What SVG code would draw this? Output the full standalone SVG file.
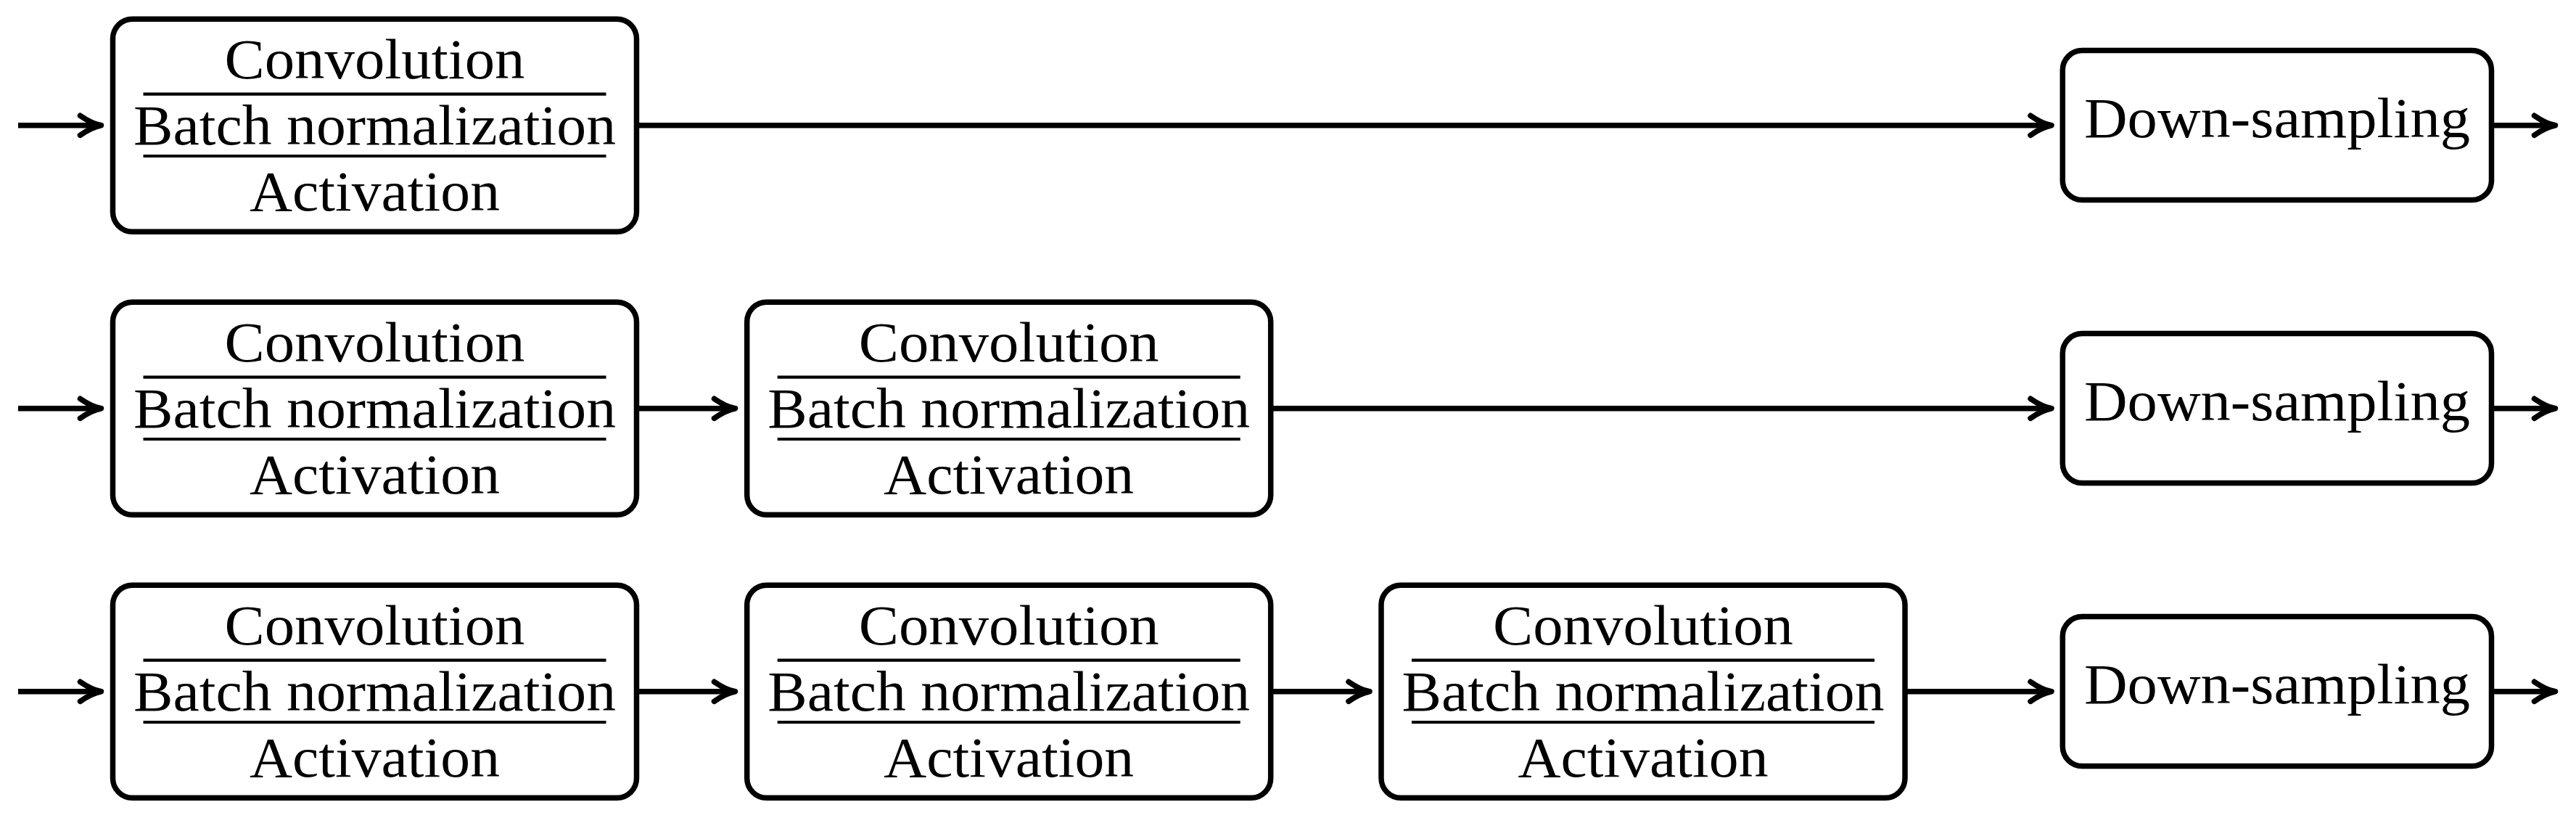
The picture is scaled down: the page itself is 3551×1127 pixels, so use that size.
<svg xmlns="http://www.w3.org/2000/svg" width="3551" height="1127" viewBox="0 0 3551 1127">
<style>
.box{fill:#fff;stroke:#000;stroke-width:7.5}
.sep{stroke:#000;stroke-width:4.2}
.lbl{font-family:"Liberation Serif","Times New Roman",serif;font-size:79px;fill:#000;text-anchor:middle}
.con{fill:none;stroke:#000;stroke-width:7.5}
</style>
<defs>
<marker id="arr" markerUnits="userSpaceOnUse" markerWidth="60" markerHeight="40" viewBox="-40 -20 60 40" refX="0" refY="0" orient="auto" overflow="visible">
<path d="M -24,-13.5 Q -8,-2.5 5,0 Q -8,2.5 -24,13.5" fill="none" stroke="#000" stroke-width="7.5" stroke-linecap="round" stroke-linejoin="round"/>
</marker>
</defs>
<rect width="3551" height="1127" fill="#fff"/>

<g id="connectors">
<line class="con" x1="25" y1="172.8" x2="134.5" y2="172.8" marker-end="url(#arr)"/>
<line class="con" x1="877.5" y1="172.8" x2="2823" y2="172.8" marker-end="url(#arr)"/>
<line class="con" x1="3434.5" y1="172.8" x2="3517.5" y2="172.8" marker-end="url(#arr)"/>

<line class="con" x1="25" y1="562.8" x2="134.5" y2="562.8" marker-end="url(#arr)"/>
<line class="con" x1="877.5" y1="562.8" x2="1008.5" y2="562.8" marker-end="url(#arr)"/>
<line class="con" x1="1751.7" y1="562.8" x2="2823" y2="562.8" marker-end="url(#arr)"/>
<line class="con" x1="3434.5" y1="562.8" x2="3517.5" y2="562.8" marker-end="url(#arr)"/>

<line class="con" x1="25" y1="952.8" x2="134.5" y2="952.8" marker-end="url(#arr)"/>
<line class="con" x1="877.5" y1="952.8" x2="1008.5" y2="952.8" marker-end="url(#arr)"/>
<line class="con" x1="1751.7" y1="952.8" x2="1883" y2="952.8" marker-end="url(#arr)"/>
<line class="con" x1="2626" y1="952.8" x2="2823" y2="952.8" marker-end="url(#arr)"/>
<line class="con" x1="3434.5" y1="952.8" x2="3517.5" y2="952.8" marker-end="url(#arr)"/>
</g>

<g id="r1-conv1">
<rect class="box" x="155.5" y="26.3" width="722" height="293" rx="27"/>
<line class="sep" x1="197.5" y1="129.7" x2="835.5" y2="129.7"/>
<line class="sep" x1="197.5" y1="215" x2="835.5" y2="215"/>
<text class="lbl" x="516.5" y="108.3" textLength="414" lengthAdjust="spacingAndGlyphs">Convolution</text>
<text class="lbl" x="516.5" y="199.3" textLength="665" lengthAdjust="spacingAndGlyphs">Batch normalization</text>
<text class="lbl" x="516.5" y="290" textLength="345" lengthAdjust="spacingAndGlyphs">Activation</text>
</g>
<g id="r1-down">
<rect class="box" x="2843.3" y="69.6" width="591.2" height="206" rx="27"/>
<text class="lbl" x="3139" y="189.3" textLength="532" lengthAdjust="spacingAndGlyphs">Down-sampling</text>
</g>

<g id="r2-conv1">
<rect class="box" x="155.5" y="416.3" width="722" height="293" rx="27"/>
<line class="sep" x1="197.5" y1="519.7" x2="835.5" y2="519.7"/>
<line class="sep" x1="197.5" y1="605" x2="835.5" y2="605"/>
<text class="lbl" x="516.5" y="498.3" textLength="414" lengthAdjust="spacingAndGlyphs">Convolution</text>
<text class="lbl" x="516.5" y="589.3" textLength="665" lengthAdjust="spacingAndGlyphs">Batch normalization</text>
<text class="lbl" x="516.5" y="680" textLength="345" lengthAdjust="spacingAndGlyphs">Activation</text>
</g>
<g id="r2-conv2">
<rect class="box" x="1029.7" y="416.3" width="722" height="293" rx="27"/>
<line class="sep" x1="1071.7" y1="519.7" x2="1709.7" y2="519.7"/>
<line class="sep" x1="1071.7" y1="605" x2="1709.7" y2="605"/>
<text class="lbl" x="1390.7" y="498.3" textLength="414" lengthAdjust="spacingAndGlyphs">Convolution</text>
<text class="lbl" x="1390.7" y="589.3" textLength="665" lengthAdjust="spacingAndGlyphs">Batch normalization</text>
<text class="lbl" x="1390.7" y="680" textLength="345" lengthAdjust="spacingAndGlyphs">Activation</text>
</g>
<g id="r2-down">
<rect class="box" x="2843.3" y="459.6" width="591.2" height="206" rx="27"/>
<text class="lbl" x="3139" y="579.3" textLength="532" lengthAdjust="spacingAndGlyphs">Down-sampling</text>
</g>

<g id="r3-conv1">
<rect class="box" x="155.5" y="806.3" width="722" height="293" rx="27"/>
<line class="sep" x1="197.5" y1="909.7" x2="835.5" y2="909.7"/>
<line class="sep" x1="197.5" y1="995" x2="835.5" y2="995"/>
<text class="lbl" x="516.5" y="888.3" textLength="414" lengthAdjust="spacingAndGlyphs">Convolution</text>
<text class="lbl" x="516.5" y="979.3" textLength="665" lengthAdjust="spacingAndGlyphs">Batch normalization</text>
<text class="lbl" x="516.5" y="1070" textLength="345" lengthAdjust="spacingAndGlyphs">Activation</text>
</g>
<g id="r3-conv2">
<rect class="box" x="1029.7" y="806.3" width="722" height="293" rx="27"/>
<line class="sep" x1="1071.7" y1="909.7" x2="1709.7" y2="909.7"/>
<line class="sep" x1="1071.7" y1="995" x2="1709.7" y2="995"/>
<text class="lbl" x="1390.7" y="888.3" textLength="414" lengthAdjust="spacingAndGlyphs">Convolution</text>
<text class="lbl" x="1390.7" y="979.3" textLength="665" lengthAdjust="spacingAndGlyphs">Batch normalization</text>
<text class="lbl" x="1390.7" y="1070" textLength="345" lengthAdjust="spacingAndGlyphs">Activation</text>
</g>
<g id="r3-conv3">
<rect class="box" x="1904" y="806.3" width="722" height="293" rx="27"/>
<line class="sep" x1="1946" y1="909.7" x2="2584" y2="909.7"/>
<line class="sep" x1="1946" y1="995" x2="2584" y2="995"/>
<text class="lbl" x="2265" y="888.3" textLength="414" lengthAdjust="spacingAndGlyphs">Convolution</text>
<text class="lbl" x="2265" y="979.3" textLength="665" lengthAdjust="spacingAndGlyphs">Batch normalization</text>
<text class="lbl" x="2265" y="1070" textLength="345" lengthAdjust="spacingAndGlyphs">Activation</text>
</g>
<g id="r3-down">
<rect class="box" x="2843.3" y="849.6" width="591.2" height="206" rx="27"/>
<text class="lbl" x="3139" y="969.3" textLength="532" lengthAdjust="spacingAndGlyphs">Down-sampling</text>
</g>
</svg>
